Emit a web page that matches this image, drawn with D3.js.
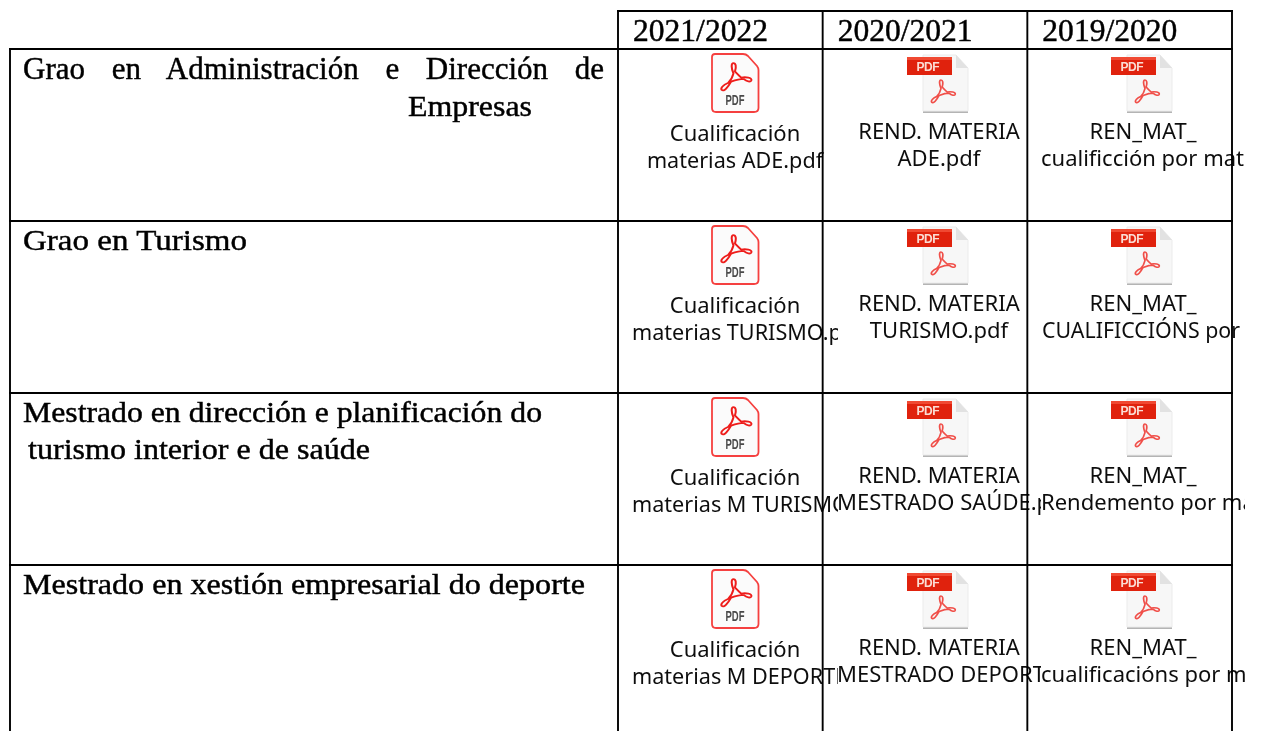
<!DOCTYPE html>
<html><head><meta charset="utf-8">
<style>html,body{margin:0;padding:0;background:#fff;overflow:hidden}</style>
<script src="https://cdn.jsdelivr.net/npm/d3@7"></script></head>
<body><svg id="c" width="1261" height="731"></svg>
<script>
const years = ["2021/2022","2020/2021","2019/2020"];
const degreeLines = [
  ["Grao en Administración e Dirección de","Empresas"],
  ["Grao en Turismo"],
  ["Mestrado en dirección e planificación do"," turismo interior e de saúde"],
  ["Mestrado en xestión empresarial do deporte"]
];
const files2122 = [
  ["Cualificación","materias ADE.pdf"],
  ["Cualificación","materias TURISMO.pdf"],
  ["Cualificación","materias M TURISMO.pdf"],
  ["Cualificación","materias M DEPORTE.pdf"]
];
const files2021 = [
  ["REND. MATERIA","ADE.pdf"],
  ["REND. MATERIA","TURISMO.pdf"],
  ["REND. MATERIA","MESTRADO SAÚDE.pdf"],
  ["REND. MATERIA","MESTRADO DEPORTE.pdf"]
];
const files1920 = [
  ["REN_MAT_","cualificción por materia.pdf"],
  ["REN_MAT_","CUALIFICCIÓNS por"],
  ["REN_MAT_","Rendemento por materia.pdf"],
  ["REN_MAT_","cualificacións por materia.pdf"]
];
const columnFiles = [files2122, files2021, files1920];

const serif = "'Liberation Serif',serif", sans = "'Noto Sans',sans-serif";
const svg = d3.select("#c");
const defs = svg.append("defs");
defs.append("filter").attr("id","soft").append("feGaussianBlur").attr("stdDeviation",0.35);

const x = d3.scaleLinear().domain([0,3]).range([618,1232]);
const y = d3.scaleLinear().domain([0,1]).range([49,221]);
const rows = d3.range(degreeLines.length);
const left = 10;

function serifText(g,s,px,py,fs){
  return g.append("text").attr("x",px).attr("y",py).attr("font-family",serif).attr("font-size",fs)
    .attr("fill","#000").attr("stroke","#000").attr("stroke-width",0.45).text(s);
}

const textLayer = svg.append("g").attr("filter","url(#soft)");

years.forEach((t,i)=>{
  serifText(textLayer,t,x(i)+15,40.5,31.5).attr("textLength",135).attr("lengthAdjust","spacingAndGlyphs");
});

const labelLayouts = [
  [{x:23,y:79,w:581,fs:31,just:true},{x:408,y:116,w:124,fs:30}],
  [{x:23,y:250,w:224,fs:30}],
  [{x:23,y:422,w:519,fs:30},{x:28,y:459,w:342,fs:30}],
  [{x:23,y:594,w:562,fs:30}]
];
degreeLines.forEach((lines,r)=>lines.forEach((s,l)=>{
  const a = labelLayouts[r][l];
  const t = serifText(textLayer,s.trim(),a.x,a.y,a.fs);
  const base = t.node().getComputedTextLength();
  if(a.just){
    const gaps = s.trim().split(" ").length-1;
    t.attr("word-spacing",(a.w-base)/gaps);
  } else {
    t.attr("textLength",a.w).attr("lengthAdjust","spacingAndGlyphs");
  }
}));

// Acrobat trefoil outline
const glyph = "M-2,-24 C-5,-24 -5,-17 -2,-9 C-3,-4 -6,2 -9,5 C-15,8 -19,12 -17,15 C-14,18 -9,11 -5,3 C0,1 6,-1 11,-1 C15,3 20,4 21,1 C22,-3 14,-4 8,-3 C5,-6 1,-10 0,-12 C2,-19 1,-24 -2,-24 Z";

function iconA(g,cx,top){
  const i = g.append("g").attr("transform",`translate(${cx},${top})`).attr("filter","url(#soft)");
  i.append("path").attr("d","M-20,1 H8 Q11,1 13,3 L22,13 Q23.5,15 23.5,17 V55 Q23.5,59 19,59 H-19 Q-23,59 -23,55 V4 Q-23,1 -20,1 Z")
    .attr("fill","#fbfbfb").attr("stroke","#f5413f").attr("stroke-width",1.8);
  i.append("path").attr("d",glyph).attr("transform","translate(0,26.6) scale(0.78,0.69)").attr("fill","none").attr("stroke","#ee1f1a").attr("stroke-width",2.6);
  i.append("text").attr("x",0).attr("y",52).attr("text-anchor","middle").attr("font-family","'Liberation Sans',sans-serif").attr("font-weight","bold").attr("font-size",14)
    .attr("textLength",19).attr("lengthAdjust","spacingAndGlyphs").attr("fill","#4a4a4a").text("PDF");
}
function iconB(g,cx,top){
  const i = g.append("g").attr("transform",`translate(${cx},${top})`).attr("filter","url(#soft)");
  i.append("rect").attr("x",-16).attr("y",57).attr("width",45).attr("height",3).attr("fill","#b4b4b4");
  i.append("path").attr("d","M-16,2 H17 L29,15 V58 H-16 Z").attr("fill","#f7f7f7").attr("stroke","#ebebeb").attr("stroke-width",1);
  i.append("path").attr("d","M17,2 V15 H29 Z").attr("fill","#e2e2e2");
  i.append("rect").attr("x",-32).attr("y",4).attr("width",45).attr("height",18).attr("fill","#e0230a");
  i.append("rect").attr("x",-32).attr("y",4).attr("width",45).attr("height",3).attr("fill","#f04a30");
  i.append("text").attr("x",-11).attr("y",17.5).attr("text-anchor","middle").attr("font-family","'Liberation Sans',sans-serif").attr("font-weight","bold").attr("font-size",12)
    .attr("textLength",23).attr("lengthAdjust","spacing").attr("fill","#fbdcd4").text("PDF");
  i.append("path").attr("d",glyph).attr("transform","translate(3.2,40.7) scale(0.62,0.57)").attr("fill","none").attr("stroke","#f0504a").attr("stroke-width",2.8);
}

// file cells
const boxX = [632,837,1041], boxW = [206,204,204];
const lineFit = {"CUALIFICCIÓNS por":198};
columnFiles.forEach((files,c)=>{
  files.forEach((lines,r)=>{
    const id = `cl${c}-${r}`, top = y(r);
    defs.append("clipPath").attr("id",id).append("rect").attr("x",boxX[c]).attr("y",top).attr("width",boxW[c]).attr("height",170);
    const cx = boxX[c]+boxW[c]/2;
    const g = svg.append("g");
    if(c===0) iconA(g,cx,top+4); else iconB(g,cx,top+4);
    const tg = g.append("g").attr("clip-path",`url(#${id})`).append("g").attr("filter","url(#soft)");
    lines.forEach((s,l)=>{
      const t = tg.append("text").attr("font-family",sans).attr("fill","#111")
        .attr("font-size",c===0&&l===1?21.6:22)
        .attr("y",top+(c===0?92:90)+l*26.6).text(s);
      const w = t.node().getComputedTextLength();
      if(lineFit[s]) t.attr("x",boxX[c]+1).attr("textLength",lineFit[s]).attr("lengthAdjust","spacingAndGlyphs");
      else if(w>boxW[c]) t.attr("x",boxX[c]);
      else t.attr("x",cx).attr("text-anchor","middle");
    });
  });
});

// grid lines
const grid = svg.append("g").attr("stroke","#000").attr("stroke-width",1.9);
grid.append("line").attr("x1",x(0)-1).attr("x2",x(3)+1).attr("y1",11).attr("y2",11);
rows.forEach(r=>grid.append("line").attr("x1",left-1).attr("x2",x(3)+1).attr("y1",y(r)).attr("y2",y(r)));
grid.append("line").attr("x1",left).attr("x2",left).attr("y1",y(0)).attr("y2",731);
d3.range(4).forEach(i=>grid.append("line").attr("x1",x(i)).attr("x2",x(i)).attr("y1",10).attr("y2",731));
</script></body></html>
